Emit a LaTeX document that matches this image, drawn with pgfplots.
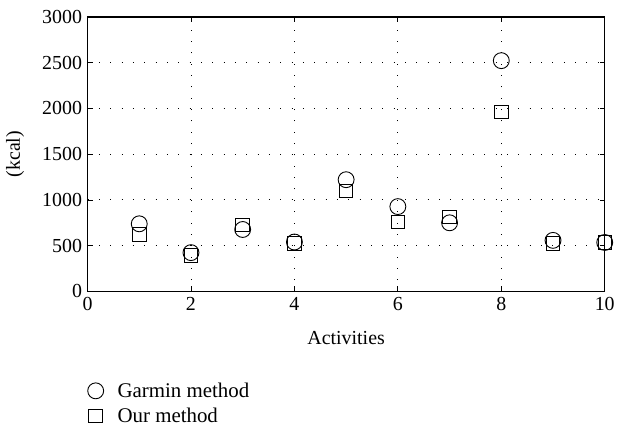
\documentclass[border=0pt]{standalone}
\usepackage{fontspec}
\setmainfont{Liberation Serif}
\usepackage{pgfplots}
\pgfplotsset{compat=1.18}
\begin{document}
\begin{tikzpicture}[font=\fontsize{20}{23}\selectfont]
\begin{axis}[
  scale only axis, width=520pt, height=276pt,
  xmin=0, xmax=10, ymin=0, ymax=3000,
  xtick={0,2,...,10}, ytick={0,500,...,3000},
  tick align=inside, major tick length=5pt,
  tick style={black, line width=0.8pt},
  grid=major,
  grid style={black, line width=0.9pt, dash pattern=on 0.9pt off 10.5pt},
  axis line style={line width=1.2pt},
  /pgf/number format/assume math mode=true,
  scaled y ticks=false,
  yticklabel style={/pgf/number format/1000 sep={}, xshift=-2pt},
  xticklabel style={yshift=-2pt},
  ticklabel style={font=\fontsize{20}{23}\selectfont},
  label style={font=\fontsize{20}{23}\selectfont},
  xlabel={Activities}, ylabel={(kcal)},
  xlabel style={at={(axis description cs:0.5,-0.17)}, anchor=center},
  ylabel style={at={(axis description cs:-0.14,0.5)}, anchor=center},
  legend style={at={(axis description cs:0,-0.325)}, anchor=north west, draw=none, fill=none,
    font=\fontsize{21}{24}\selectfont, row sep=5pt, column sep=12pt, inner sep=0pt},
  legend cell align=left,
]
\addplot[only marks, mark=o, mark size=8pt, line width=0.9pt, black]
  coordinates {(1,739) (2,424) (3,677) (4,540) (5,1221) (6,927) (7,750) (8,2522) (9,558) (10,535)};
\addlegendentry{Garmin method}
\addplot[only marks, mark=square, mark size=6.8pt, line width=0.9pt, black]
  coordinates {(1,625) (2,391) (3,725) (4,525) (5,1098) (6,757) (7,812) (8,1960) (9,522) (10,535)};
\addlegendentry{Our method}
\end{axis}
\path (current axis.south west) ++(-88pt,-136pt) coordinate (bbsw);
\path (current axis.north east) ++(10pt,17pt) coordinate (bbne);
\useasboundingbox (bbsw) rectangle (bbne);
\end{tikzpicture}
\end{document}
